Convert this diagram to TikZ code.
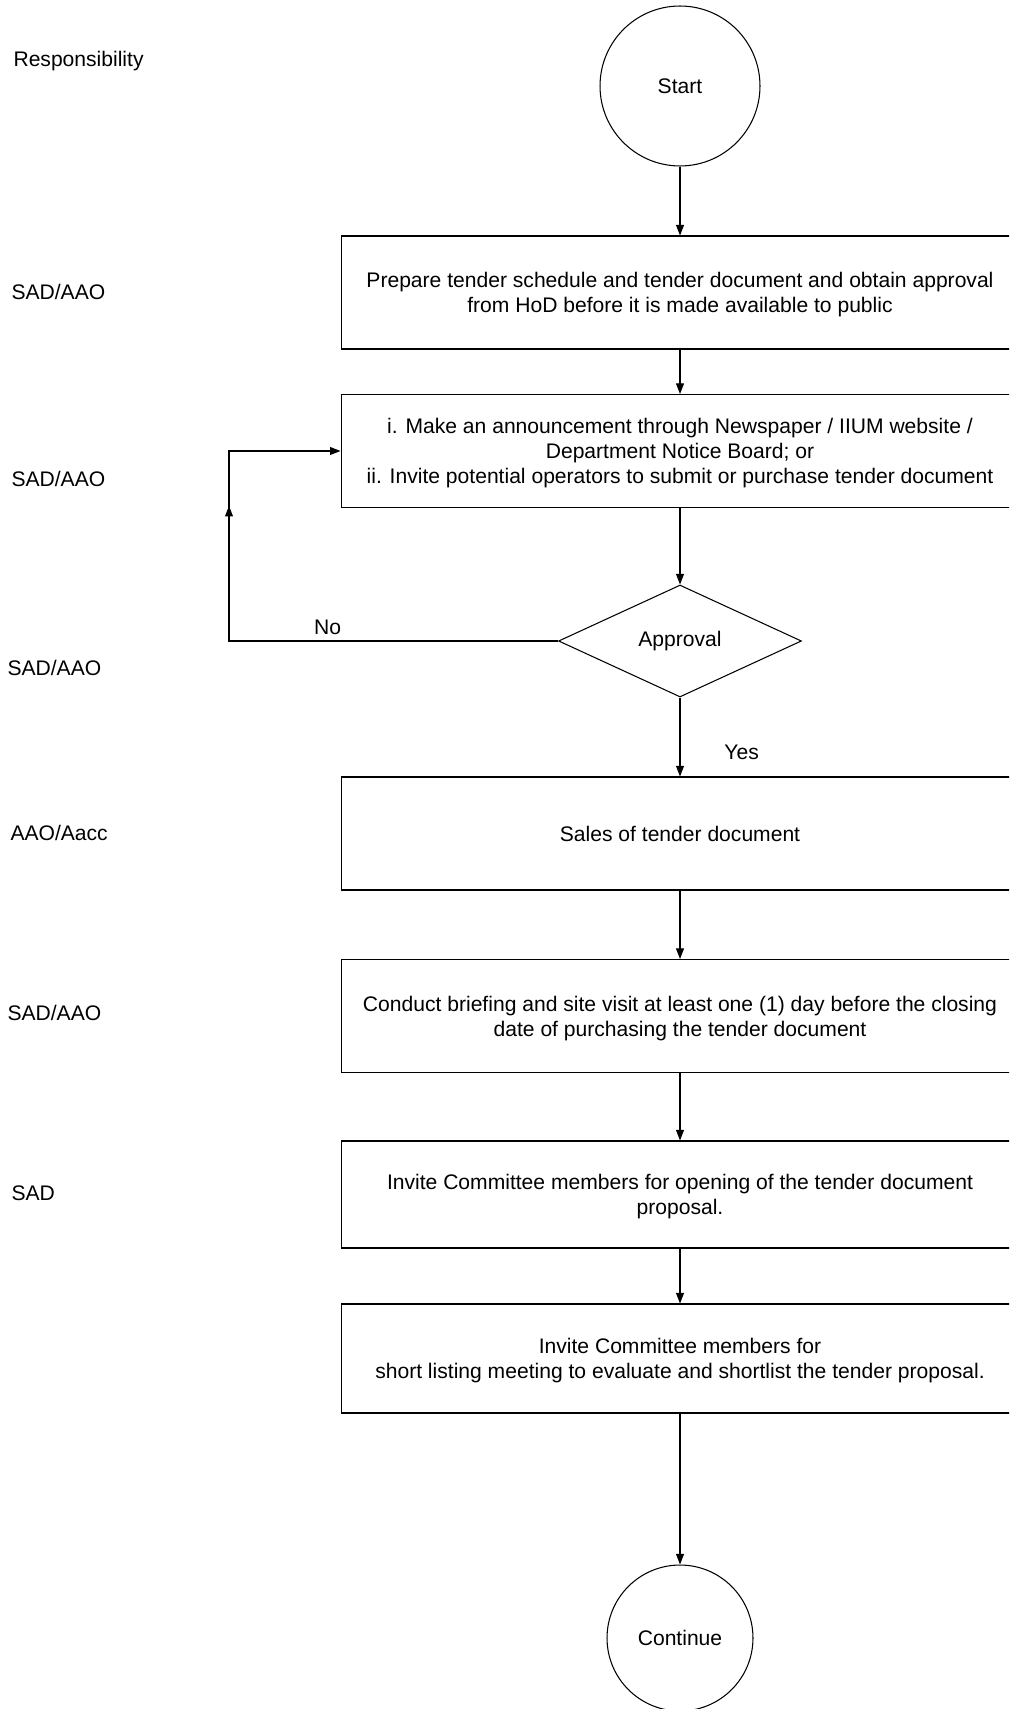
\documentclass[tikz,border=0pt]{standalone}
\usepackage{fontspec}
\setmainfont{Liberation Sans}
\usepackage{tikz}
\usetikzlibrary{shapes.geometric,arrows.meta,decorations.markings}

\begin{document}
\begin{tikzpicture}[x=0.02cm,y=-0.02cm,
    font=\fontsize{12}{14.2}\selectfont,
    line width=0.6pt,
    >={Triangle[width=4.5pt,length=6pt]},
    stepbox/.style={draw,rectangle,minimum width=13.56cm,minimum height=2.26cm,
      align=center,inner sep=0pt,text depth=-5pt},
    termin/.style={draw,circle,inner sep=0pt},
    decide/.style={draw,diamond,aspect=2.17,minimum width=4.86cm,minimum height=2.24cm,
      inner sep=0pt},
    resp/.style={anchor=west,inner sep=0pt}]
  \clip (0,0) rectangle (1009,1709);

  % responsibility column
  \node[resp] (rhead) at (13,61) {Responsibility};
  \node[resp] (r1) at (11,292) {SAD/AAO};
  \node[resp] (r2) at (11,479) {SAD/AAO};
  \node[resp] (r3) at (7,668) {SAD/AAO};
  \node[resp] (r4) at (10,833) {AAO/Aacc};
  \node[resp] (r5) at (7,1013) {SAD/AAO};
  \node[resp] (r6) at (11,1193) {SAD};

  % flow
  \node[termin,minimum size=3.2cm] (start) at (680,86) {Start};
  \node[stepbox] (prep) at (680,292.5)
    {Prepare tender schedule and tender document and obtain approval\\
     from HoD before it is made available to public};
  \node[stepbox] (announce) at (680,451)
    {i. Make an announcement through Newspaper / IIUM website /\\
     Department Notice Board; or\\
     ii. Invite potential operators to submit or purchase tender document};
  \node[decide] (approval) at (680,641) {Approval};
  \node[stepbox] (sales) at (680,833.5) {Sales of tender document};
  \node[stepbox] (briefing) at (680,1016)
    {Conduct briefing and site visit at least one (1) day before the closing\\
     date of purchasing the tender document};
  \node[stepbox,minimum height=2.14cm] (opening) at (680,1194.5)
    {Invite Committee members for opening of the tender document\\
     proposal.};
  \node[stepbox,minimum height=2.18cm] (shortlist) at (680,1358.5)
    {Invite Committee members for\\
     short listing meeting to evaluate and shortlist the tender proposal.};
  \node[termin,minimum size=2.92cm] (cont) at (680,1638) {Continue};

  \draw[->] (start) -- (prep);
  \draw[->] (prep) -- (announce);
  \draw[->] (announce) -- (approval);
  \draw[->] (approval) -- node[pos=0.7,right=0.76cm]{Yes} (sales);
  \draw[->] (sales) -- (briefing);
  \draw[->] (briefing) -- (opening);
  \draw[->] (opening) -- (shortlist);
  \draw[->] (shortlist) -- (cont);

  % loop back on No
  \coordinate (back) at (229,641);
  \draw[->,postaction={decorate},
    decoration={markings,mark=at position 0.736 with {\arrow{>}}}]
    (approval.west) -- node[pos=0.7,above]{No} (back)
    -- (back |- announce.west) -- (announce.west);
\end{tikzpicture}
\end{document}
